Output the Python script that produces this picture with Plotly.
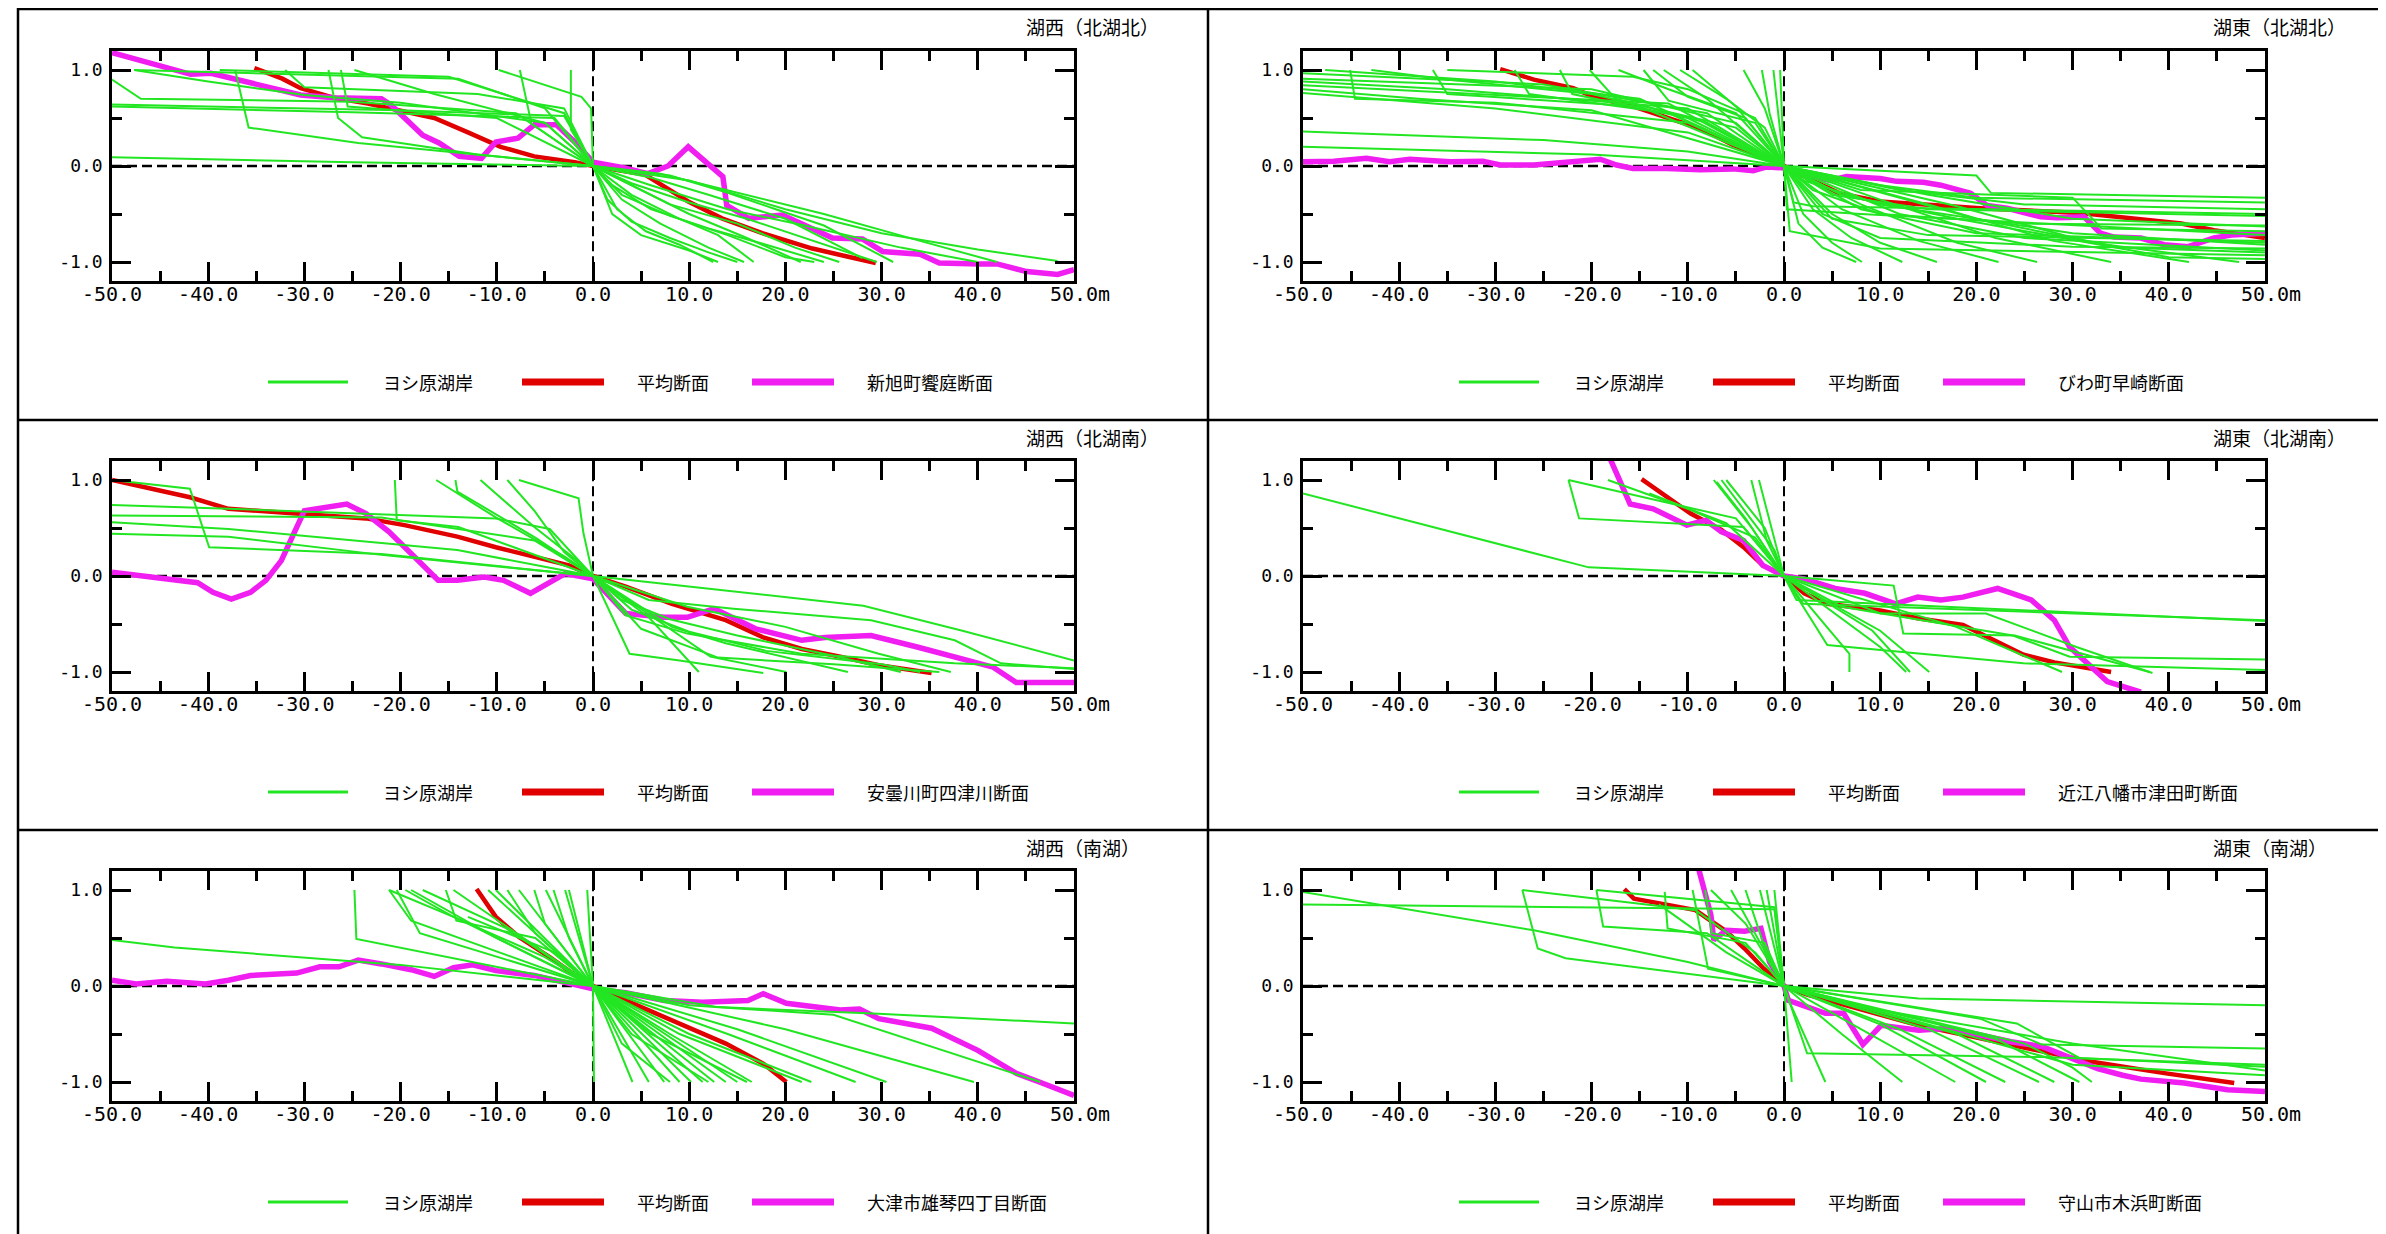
import plotly.graph_objects as go

W, H = 2386, 1234

# ---------------- text ----------------
panel_titles = ["湖西（北湖北）", "湖東（北湖北）", "湖西（北湖南）",
                "湖東（北湖南）", "湖西（南湖）", "湖東（南湖）"]
site_names = ["新旭町饗庭断面", "びわ町早崎断面", "安曇川町四津川断面",
              "近江八幡市津田町断面", "大津市雄琴四丁目断面", "守山市木浜町断面"]
green_label = "ヨシ原湖岸"
mean_label = "平均断面"

x_tickvals = [-50, -40, -30, -20, -10, 0, 10, 20, 30, 40, 50]
x_ticktext = ["-50.0", "-40.0", "-30.0", "-20.0", "-10.0", "0.0",
              "10.0", "20.0", "30.0", "40.0", "\u00a050.0m"]
x_minor = [-45, -35, -25, -15, -5, 5, 15, 25, 35, 45]
y_tickvals = [-1.0, 0.0, 1.0]
y_left_text = ["-1.0", "0.0", "1.0"]
y_right_text = ["BSL-1.0m", "BSL\u00a0\u00a00.0m", "BSL\u00a0\u00a01.0m"]
y_minor = [-0.5, 0.5]

# ---------------- data (distance m, height m) ----------------
# Panel 1: 湖西（北湖北）
p1_mean = [(-35.2, 1.02), (-32.3, 0.91), (-30.4, 0.81), (-26.9, 0.71), (-23.4, 0.65), (-20, 0.58),
           (-16.5, 0.50), (-13, 0.35), (-9.6, 0.20), (-6.1, 0.10), (-1.9, 0.04), (0, 0),
           (5.4, -0.09), (9.9, -0.37), (13.4, -0.545), (17.6, -0.70), (22.8, -0.86), (26.3, -0.94), (29.4, -1.01)]
p1_site = [(-50, 1.18), (-41.8, 0.955), (-39.7, 0.965), (-35.5, 0.86), (-30.4, 0.74), (-26.9, 0.71),
           (-22.0, 0.70), (-21.0, 0.635), (-19.3, 0.48), (-17.7, 0.32), (-16.0, 0.24), (-13.9, 0.10),
           (-11.6, 0.08), (-10.1, 0.25), (-7.8, 0.29), (-6.1, 0.43), (-3.8, 0.43), (-1.9, 0.25), (0, 0.04),
           (1.2, 0.02), (3.3, -0.02), (5.7, -0.08), (7.8, 0.0), (9.9, 0.20), (11.7, 0.045), (13.5, -0.11),
           (13.9, -0.41), (16.2, -0.545), (19.7, -0.51), (22.8, -0.65), (24.9, -0.75), (28, -0.76),
           (30.1, -0.89), (34, -0.92), (36, -1.01), (40.2, -1.02), (42, -1.02), (45.1, -1.10), (48.3, -1.13), (50, -1.08)]
p1_green = [
    [(-50, 0.90), (-47, 0.70), (-25, 0.67), (-8, 0.55), (0, 0), (2.5, -0.45), (5.5, -0.68), (9, -0.82), (12.5, -1.0)],
    [(-50, 0.64), (-20, 0.58), (-3, 0.52), (0, 0), (3, -0.35), (7, -0.6), (12, -0.85), (15.7, -1.0)],
    [(-50, 0.62), (-25, 0.56), (-4, 0.50), (0, 0), (4, -0.3), (9, -0.55), (13, -0.72), (16.7, -1.0)],
    [(-50, 0.09), (-25, 0.04), (0, 0), (5, -0.25), (10, -0.5), (16, -0.75), (21.6, -1.0)],
    [(-47.7, 1.0), (-40, 0.88), (-30, 0.74), (-20, 0.66), (-5, 0.45), (0, 0), (3, -0.15), (8, -0.40), (15, -0.60), (21, -0.85), (25.6, -1.0)],
    [(-47.7, 1.0), (-14, 0.91), (-5, 0.6), (0, 0), (6, -0.12), (12, -0.30), (20, -0.55), (28, -0.96)],
    [(-38.8, 1.0), (-15, 0.93), (-3, 0.55), (0, 0), (8, -0.1), (14, -0.28), (19, -0.45), (24, -0.62), (31.2, -1.0)],
    [(-37.2, 1.0), (-35.8, 0.40), (-24.4, 0.24), (-10, 0.10), (0, 0), (7, -0.08), (14, -0.25), (24, -0.5), (34, -0.78), (42, -1.0)],
    [(-27.5, 1.0), (-26.5, 0.50), (-24, 0.30), (-12, 0.12), (0, 0), (10, -0.15), (20, -0.45), (30, -0.70), (40, -0.87), (48.3, -0.99)],
    [(-26.2, 1.0), (-25.5, 0.62), (-10, 0.50), (0, 0), (6, -0.2), (14, -0.45), (22, -0.62), (32, -0.85), (40, -1.0)],
    [(-24.8, 1.0), (-16.5, 0.75), (-5, 0.45), (0, 0), (4, -0.18), (10, -0.38), (16, -0.55), (22, -0.75), (29.5, -1.0)],
    [(-32, 1.0), (-30, 0.82), (-12, 0.75), (-3, 0.6), (0, 0), (2, -0.2), (6, -0.45), (12, -0.65), (18, -0.82), (24, -1.0)],
    [(-9.8, 1.0), (-1.2, 0.72), (-0.2, 0.6), (0, 0), (1.5, -0.35), (4, -0.58), (8, -0.75), (12, -0.9), (15, -1.0)],
    [(-7.6, 1.0), (-6.4, 0.44), (0, 0), (3, -0.3), (8, -0.52), (14, -0.72), (20, -0.95), (23, -1.0)],
    [(-2.3, 1.0), (-2.3, 0.38), (0, 0), (2, -0.5), (5, -0.72), (10, -0.88), (13, -1.0)],
]

# Panel 2: 湖東（北湖北）
p2_mean = [(-29.5, 1.01), (-26, 0.90), (-21.9, 0.81), (-19.8, 0.72), (-15.7, 0.62), (-12.2, 0.51), (-8.7, 0.39),
           (-5.3, 0.22), (-1.8, 0.08), (0, 0), (3.1, -0.16), (5.8, -0.285), (10, -0.37), (20.4, -0.44),
           (30.8, -0.49), (41.3, -0.60), (44.7, -0.67), (50, -0.75)]
p2_site = [(-50, 0.045), (-46.8, 0.05), (-43.4, 0.08), (-41, 0.045), (-38.9, 0.07), (-34.7, 0.045), (-31.3, 0.05),
           (-29.5, 0.01), (-26, 0.01), (-22.6, 0.045), (-19.1, 0.07), (-17.4, 0.01), (-15.7, -0.025), (-12.2, -0.025),
           (-8.7, -0.04), (-5.3, -0.03), (-3.2, -0.05), (-1.8, -0.01), (0, -0.02), (3.1, -0.11), (4.8, -0.15),
           (6.5, -0.11), (10, -0.13), (11.7, -0.16), (14.5, -0.17), (16.3, -0.2), (19.4, -0.285), (21.1, -0.41),
           (23.2, -0.44), (26.7, -0.53), (28.4, -0.54), (31.2, -0.53), (32.9, -0.70), (34.3, -0.74), (37.1, -0.75),
           (39.5, -0.82), (42, -0.84), (44.7, -0.75), (46.5, -0.72), (50, -0.70)]
p2_green = [
    [(-50, 0.965), (-25, 0.85), (-8, 0.55), (0, 0), (20, -0.10), (21.5, -0.28), (50, -0.33)],
    [(-50, 0.91), (-20, 0.80), (-5, 0.45), (0, 0), (10, -0.2), (20, -0.33), (50, -0.38)],
    [(-50, 0.88), (-35, 0.80), (-10, 0.60), (0, 0), (1, -0.38), (3, -0.42), (50, -0.50)],
    [(-50, 0.76), (-30, 0.60), (-10, 0.35), (0, 0), (5, -0.3), (15, -0.45), (50, -0.52)],
    [(-50, 0.36), (-25, 0.27), (-10, 0.15), (0, 0), (8, -0.25), (30, -0.33), (33, -0.65), (50, -0.68)],
    [(-50, 0.20), (-20, 0.12), (0, 0), (3, -0.25), (10, -0.5), (25, -0.6), (50, -0.62)],
    [(-47.7, 1.0), (-30, 0.88), (-15, 0.70), (0, 0), (0.6, -0.68), (10, -0.86), (50, -0.93)],
    [(-45.1, 1.0), (-44.6, 0.70), (-30, 0.66), (-10, 0.45), (0, 0), (5, -0.55), (15, -0.72), (50, -0.78)],
    [(-42.9, 1.0), (-35, 0.90), (-20, 0.75), (-5, 0.40), (0, 0), (8, -0.45), (20, -0.70), (50, -0.80)],
    [(-36.5, 1.0), (-35, 0.75), (-15, 0.62), (0, 0), (4, -0.5), (10, -0.75), (30, -0.84), (50, -0.86)],
    [(-35, 1.0), (-15.7, 0.93), (-10, 0.80), (-3, 0.50), (0, 0), (12, -0.5), (25, -0.75), (50, -0.88)],
    [(-23.3, 1.0), (-22, 0.75), (-10, 0.50), (0, 0), (2, -0.5), (5, -0.8), (8.1, -1.0)],
    [(-20.2, 1.0), (-17.5, 0.70), (-8, 0.45), (0, 0), (3, -0.45), (7, -0.75), (12.3, -1.0)],
    [(-17.2, 1.0), (-12, 0.80), (-5, 0.55), (0, 0), (5, -0.5), (10, -0.8), (15.9, -1.0)],
    [(-14.6, 1.0), (-12, 0.68), (-3, 0.45), (0, 0), (6, -0.45), (14, -0.78), (22.3, -1.0)],
    [(-13.6, 1.0), (-10, 0.72), (-4, 0.50), (0, 0), (8, -0.4), (18, -0.8), (26.3, -1.0)],
    [(-12.5, 1.0), (-8, 0.70), (0, 0), (10, -0.35), (22, -0.75), (34, -1.0)],
    [(-10.8, 1.0), (-6, 0.70), (-2, 0.40), (0, 0), (15, -0.4), (28, -0.78), (42.1, -1.0)],
    [(-9.5, 1.0), (-5, 0.62), (0, 0), (18, -0.42), (32, -0.80), (47.3, -1.0)],
    [(-4.2, 1.0), (-2, 0.60), (0, 0), (15, -0.3), (30, -0.55), (50, -0.63)],
    [(-2.3, 1.0), (-1.5, 0.55), (0, 0), (0.3, -0.45), (8, -0.5), (50, -0.72)],
    [(-1.1, 1.0), (0, 0), (12, -0.25), (25, -0.4), (50, -0.45)],
    [(-0.4, 1.0), (0, 0), (6, -0.3), (18, -0.55), (40, -0.95), (50, -0.97)],
    [(-50, 0.84), (-12, 0.65), (0, 0), (2, -0.15), (10, -0.4), (30, -0.7), (50, -0.82)],
    [(-50, 0.80), (-38, 0.70), (-20, 0.58), (0, 0), (20, -0.55), (35, -0.85), (50, -0.90)],
    [(-28, 1.0), (-26.5, 0.75), (-12, 0.55), (0, 0), (1.5, -0.6), (4, -0.85), (7.5, -1.0)],
]

# Panel 3: 湖西（北湖南）
p3_mean = [(-50, 1.0), (-45.9, 0.91), (-41.9, 0.82), (-37.9, 0.70), (-30, 0.65), (-23.6, 0.60), (-19.6, 0.53),
           (-14.1, 0.41), (-10.1, 0.30), (-6.1, 0.20), (-2.5, 0.11), (0, 0), (3.4, -0.11), (8.2, -0.29),
           (13.8, -0.46), (17.7, -0.64), (21.7, -0.76), (25.7, -0.84), (29.7, -0.93), (35.2, -1.01)]
p3_site = [(-50, 0.04), (-45.9, -0.01), (-41.1, -0.07), (-39.5, -0.17), (-37.6, -0.24), (-35.6, -0.17),
           (-34, -0.045), (-32.4, 0.16), (-30, 0.68), (-25.6, 0.75), (-23.6, 0.65), (-21.2, 0.46), (-18.9, 0.23),
           (-16.1, -0.045), (-14.1, -0.045), (-11.3, -0.01), (-9.3, -0.045), (-6.5, -0.18), (-2.9, 0.025),
           (0, -0.03), (3.4, -0.39), (7.4, -0.43), (9.8, -0.43), (12.6, -0.34), (16.9, -0.55), (21.7, -0.67),
           (24.1, -0.64), (28.9, -0.62), (33.7, -0.74), (39.2, -0.88), (41.6, -0.95), (44, -1.11), (50, -1.11)]
p3_green = [
    [(-50, 1.0), (-41.9, 0.91), (-39.9, 0.30), (-22, 0.23), (0, 0), (3.8, -0.81), (9, -0.88), (17.7, -1.01)],
    [(-50, 0.74), (-37.9, 0.70), (-10.1, 0.60), (-4.5, 0.49), (0, 0), (28.1, -0.31), (38.4, -0.57), (50, -0.88)],
    [(-50, 0.63), (-22, 0.61), (-6.1, 0.37), (0, 0), (5.8, -0.25), (14.6, -0.34), (28.9, -0.46), (37.6, -0.67), (42.4, -0.91), (50, -0.97)],
    [(-50, 0.56), (-37.9, 0.49), (-14.1, 0.27), (0, 0), (3.4, -0.41), (9.8, -0.6), (21.7, -0.81), (37.6, -0.91), (50, -0.96)],
    [(-50, 0.44), (-37.9, 0.41), (-22, 0.22), (0, 0), (5.8, -0.43), (11, -1.0)],
    [(-20.6, 1.0), (-20.4, 0.58), (-14, 0.51), (0, 0), (8.2, -0.53), (13.8, -0.70), (26.5, -1.0)],
    [(-16.3, 1.0), (-10.1, 0.61), (-2.9, 0.20), (0, 0), (9.8, -0.32), (20, -0.53), (29.7, -0.81), (37.2, -1.0)],
    [(-14.3, 1.0), (-14.1, 0.88), (-6, 0.40), (0, 0), (12.2, -0.84), (20.1, -1.0)],
    [(-11.7, 1.0), (-6.1, 0.51), (-1.5, 0.15), (0, 0), (5, -0.55), (13, -0.85), (25, -0.92), (36, -1.0)],
    [(-8.9, 1.0), (-6.1, 0.68), (-3, 0.25), (0, 0), (4, -0.35), (10, -0.58), (18, -0.78), (30, -0.92), (34, -1.0)],
    [(-7.7, 1.0), (-1.5, 0.81), (-1, 0.45), (0, 0), (3, -0.25), (8, -0.45), (15, -0.62), (25, -0.83), (32, -1.0)],
]

# Panel 4: 湖東（北湖南）
p4_mean = [(-14.8, 1.01), (-12, 0.82), (-9.7, 0.65), (-6.5, 0.48), (-4.2, 0.30), (-2.2, 0.11), (0, 0),
           (2.1, -0.18), (4.5, -0.29), (10, -0.36), (13.9, -0.44), (18.6, -0.51), (21.8, -0.67), (24.9, -0.82),
           (28.1, -0.90), (31.2, -0.95), (34, -1.0)]
p4_site = [(-18.2, 1.25), (-16, 0.75), (-13.6, 0.70), (-10.1, 0.53), (-8.1, 0.58), (-6.5, 0.46), (-4.2, 0.37),
           (-2.2, 0.11), (0, 0), (2.1, -0.03), (5.3, -0.13), (8.4, -0.18), (11.6, -0.29), (13.9, -0.22),
           (16.3, -0.25), (18.6, -0.22), (22.2, -0.13), (24.2, -0.20), (25.7, -0.25), (28.1, -0.46), (29.7, -0.74),
           (33.6, -1.10), (37.1, -1.21)]
p4_green = [
    [(-50, 0.86), (-20.3, 0.09), (0, 0), (2, -0.29), (50, -0.46)],
    [(-22.4, 1.0), (-21.3, 0.60), (-4.2, 0.51), (0, 0), (1.3, -0.25), (50, -0.47)],
    [(-22.4, 1.0), (-5, 0.60), (0, 0), (11.4, -0.10), (12.4, -0.60), (24, -0.62), (38, -1.0)],
    [(-18.3, 1.0), (-10, 0.70), (-3, 0.40), (0, 0), (4.5, -0.72), (24.9, -0.91), (50, -0.98)],
    [(-7.3, 1.0), (-3.4, 0.51), (0, 0), (10, -0.39), (21, -0.39), (30.4, -0.74), (38.3, -1.01)],
    [(-6.5, 1.0), (-1.0, 0.27), (0, 0), (6, -0.32), (23.8, -0.62), (29.7, -0.84), (50, -0.87)],
    [(-3.4, 1.0), (-1.8, 0.37), (0, 0), (6.8, -0.81), (6.8, -1.0)],
    [(-2.6, 1.0), (-0.6, 0.23), (0, 0), (9.2, -0.57), (13.1, -1.0)],
    [(-14, 0.86), (-6, 0.55), (0, 0), (3.7, -0.22), (10, -0.57), (15.1, -1.0)],
    [(-7, 0.98), (-4, 0.6), (0, 0), (10, -0.74), (12.7, -1.0)],
    [(-6, 1.0), (-2, 0.5), (0, 0), (17.9, -0.53), (28.9, -1.0)],
]

# Panel 5: 湖西（南湖）
p5_mean = [(-12.1, 1.01), (-10.1, 0.72), (-7.7, 0.51), (-4.5, 0.30), (-1.4, 0.08), (0, 0), (3.4, -0.15),
           (8.2, -0.36), (13.8, -0.60), (17.7, -0.81), (20.1, -1.0)]
p5_site = [(-50, 0.06), (-47.5, 0.02), (-44.3, 0.05), (-40.3, 0.02), (-37.9, 0.06), (-35.6, 0.11), (-30.8, 0.135),
           (-28.4, 0.20), (-26.4, 0.20), (-24.4, 0.27), (-22, 0.23), (-18.9, 0.17), (-16.5, 0.10), (-14.5, 0.19),
           (-12.5, 0.22), (-10.1, 0.16), (-6.1, 0.11), (-2.9, 0.04), (0, -0.03), (3.4, -0.07), (7.4, -0.15),
           (11.4, -0.17), (16.1, -0.15), (17.7, -0.08), (20.1, -0.18), (25.7, -0.25), (27.7, -0.24), (29.7, -0.34),
           (35.2, -0.44), (40, -0.67), (44, -0.91), (46.4, -1.0), (50, -1.14)]
p5_green = [
    [(-50, 0.48), (-43.5, 0.40), (-20, 0.22), (0, 0), (13, -0.22), (29.7, -0.29), (50, -0.39)],
    [(-24.8, 1.0), (-24.6, 0.49), (0, 0), (10, -0.2), (25, -0.3), (45, -0.95), (46.5, -1.0)],
    [(-21.2, 1.0), (-18.9, 0.68), (0, 0), (20, -0.45), (39.6, -1.0)],
    [(-21.2, 1.0), (-14, 0.70), (0, 0), (15, -0.45), (30.5, -1.0)],
    [(-20.4, 1.0), (-18, 0.55), (0, 0), (14, -0.5), (27.3, -1.0)],
    [(-18.9, 1.0), (-10, 0.5), (0, 0), (10, -0.5), (22.7, -1.0)],
    [(-17.7, 1.0), (-9, 0.60), (0, 0), (9, -0.5), (21.7, -1.0)],
    [(-15.3, 1.0), (-14.2, 0.68), (-6, 0.5), (0, 0), (8, -0.5), (16.5, -1.0)],
    [(-14.5, 1.0), (0, 0), (15, -1.0)],
    [(-10.9, 1.0), (0, 0), (13.8, -1.0)],
    [(-10.1, 1.0), (0, 0), (12.6, -1.0)],
    [(-8.9, 1.0), (-6, 0.55), (0, 0), (11.4, -1.0)],
    [(-7.7, 1.0), (0, 0), (10.2, -1.0)],
    [(-6.1, 1.0), (-5, 0.65), (0, 0), (9, -1.0)],
    [(-4.9, 1.0), (0, 0), (7.4, -1.0)],
    [(-4.1, 1.0), (-2.5, 0.50), (0, 0), (5.8, -1.0)],
    [(-2.9, 1.0), (0, 0), (4.1, -1.0)],
    [(-2.5, 1.0), (0, 0), (0.1, -1.0)],
    [(-0.6, 1.0), (0, 0), (6, -0.5), (16, -1.0)],
    [(-19.5, 1.0), (-14.5, 0.72), (-5, 0.3), (0, 0), (4, -0.5), (12, -1.0)],
    [(-13, 0.72), (-4, 0.35), (0, 0), (3, -0.6), (8, -1.0)],
]

# Panel 6: 湖東（南湖）
p6_mean = [(-16.6, 1.01), (-15.6, 0.91), (-11.8, 0.84), (-9.2, 0.79), (-7.9, 0.70), (-6, 0.57), (-4.1, 0.39),
           (-2.1, 0.18), (0, 0), (2.4, -0.09), (7.5, -0.23), (14, -0.41), (20.4, -0.545), (26.8, -0.68),
           (32, -0.79), (39.7, -0.91), (46.8, -1.01)]
p6_site = [(-8.9, 1.23), (-8.2, 0.98), (-7.6, 0.74), (-7.3, 0.48), (-6, 0.58), (-4.1, 0.57), (-2.4, 0.60),
           (-1.5, 0.25), (0, 0), (0.45, -0.15), (3, -0.23), (4.3, -0.285), (6.2, -0.285), (8.2, -0.61),
           (10.1, -0.41), (14, -0.46), (17.2, -0.44), (20.4, -0.51), (23.6, -0.58), (26.8, -0.63), (30, -0.75),
           (32.6, -0.86), (35.2, -0.93), (37.1, -0.97), (41.6, -1.01), (46.1, -1.08), (50, -1.10)]
p6_green = [
    [(-50, 0.98), (-26, 0.58), (-10, 0.25), (0, 0), (14, -0.13), (50, -0.20)],
    [(-50, 0.85), (-20, 0.82), (-1, 0.80), (0, 0), (2.4, -0.70), (26.8, -0.74), (50, -0.82)],
    [(-27.2, 1.0), (-25.6, 0.39), (-22.7, 0.29), (0, 0), (20.4, -0.34), (26.8, -0.61), (50, -0.65)],
    [(-27.2, 1.0), (-9.2, 0.79), (-3, 0.35), (0, 0), (24.2, -0.39), (30.7, -0.75), (50, -0.84)],
    [(-19.5, 1.0), (-18.8, 0.62), (-8, 0.55), (0, 0), (15, -0.4), (30, -0.82), (50, -0.93)],
    [(-12.4, 0.98), (-12.1, 0.60), (-4, 0.45), (0, 0), (0.5, -0.15), (4.3, -1.0)],
    [(-9.5, 1.0), (-7.9, 0.18), (0, 0), (0.8, -1.0)],
    [(-8.2, 1.0), (-7.5, 0.55), (-2, 0.45), (0, 0), (6, -0.5), (12.3, -1.0)],
    [(-7.6, 1.0), (-4, 0.65), (0, 0), (8, -0.45), (17.8, -1.0)],
    [(-5.5, 1.0), (-3, 0.55), (0, 0), (10, -0.4), (21, -1.0)],
    [(-4, 1.0), (-2, 0.4), (0, 0), (12, -0.45), (23, -1.0)],
    [(-2.5, 1.0), (0, 0), (15, -0.45), (26.5, -1.0)],
    [(-1.8, 1.0), (0, 0), (18, -0.5), (28.1, -1.0)],
    [(-1.0, 1.0), (-0.8, 0.81), (0, 0), (22, -0.55), (30.7, -1.0)],
    [(-19.5, 1.0), (-1, 0.82), (0, 0), (25, -0.6), (30, -0.85), (32, -1.0)],
    [(-13, 0.85), (-6, 0.35), (0, 0), (10, -0.25), (30, -0.6), (50, -0.88)],
]

greens = [p1_green, p2_green, p3_green, p4_green, p5_green, p6_green]
means = [p1_mean, p2_mean, p3_mean, p4_mean, p5_mean, p6_mean]
sites = [p1_site, p2_site, p3_site, p4_site, p5_site, p6_site]

# ---------------- styles / layout geometry (page pixels) ----------------
GREEN, RED, MAGENTA = "#22E622", "#E00000", "#F01EF0"
NUM_FONT = "DejaVu Sans Mono"
JP_FONT = "Noto Sans CJK JP"
PAGE_OFF = 8  # default body margin of the html page
col_px = [(112, 1074), (1303, 2265)]
row_px = [(50.8, 281.2), (460.8, 691.2), (870.8, 1101.2)]
ROW_STEP = 410
title_x = [1024, 2211]
title_y = 27
legend_y = 382
legend_dx = [0, 1191]
legend_items = [(268, 348, 381, 3, GREEN), (522, 604, 635, 7, RED), (752, 834, 865, 7, MAGENTA)]


def px(x):
    return (x - PAGE_OFF) / W


def py(y):
    return 1 - (y - PAGE_OFF) / H


def flatten(lines):
    xs, ys = [], []
    for line in lines:
        for x, y in line:
            xs.append(x)
            ys.append(y)
        xs.append(None)
        ys.append(None)
    return xs, ys


fig = go.Figure()
shapes = []
annotations = []

for i in range(6):
    r, c = divmod(i, 2)
    xa, ya, yr = f"x{i + 1}", f"y{i + 1}", f"y{i + 7}"
    gx, gy = flatten(greens[i])
    mx = [p[0] for p in means[i]]
    my = [p[1] for p in means[i]]
    sx = [p[0] for p in sites[i]]
    sy = [p[1] for p in sites[i]]
    fig.add_trace(go.Scatter(x=mx, y=my, mode="lines", line=dict(color=RED, width=4.5),
                             xaxis=xa, yaxis=ya, name=mean_label, showlegend=False))
    fig.add_trace(go.Scatter(x=sx, y=sy, mode="lines", line=dict(color=MAGENTA, width=5.5),
                             xaxis=xa, yaxis=ya, name=site_names[i], showlegend=False))
    fig.add_trace(go.Scatter(x=gx, y=gy, mode="lines", line=dict(color=GREEN, width=2),
                             xaxis=xa, yaxis=ya, name=green_label, showlegend=False,
                             connectgaps=False))

    x0, x1 = col_px[c]
    y0, y1 = row_px[r]
    axis_common = dict(showline=True, linecolor="black", linewidth=2.5, mirror="ticks",
                       ticks="inside", ticklen=19, tickwidth=2.5, tickcolor="black",
                       showgrid=False, zeroline=False, automargin=False)
    fig.update_layout(**{
        f"xaxis{i + 1}": dict(domain=[px(x0), px(x1)], anchor=ya, range=[-50, 50],
                              tickmode="array", tickvals=x_tickvals, ticktext=x_ticktext,
                              tickfont=dict(family=NUM_FONT, size=20, color="black"),
                              ticklabelstandoff=-7,
                              minor=dict(tickvals=x_minor, ticks="inside", ticklen=10,
                                         tickwidth=2.5, tickcolor="black"),
                              **axis_common),
        f"yaxis{i + 1}": dict(domain=[py(y1), py(y0)], anchor=xa, range=[-1.2, 1.2],
                              tickmode="array", tickvals=y_tickvals, ticktext=y_left_text,
                              tickfont=dict(family=NUM_FONT, size=18, color="black"),
                              ticklabelstandoff=3,
                              minor=dict(tickvals=y_minor, ticks="inside", ticklen=10,
                                         tickwidth=2.5, tickcolor="black"),
                              **axis_common),
        f"yaxis{i + 7}": dict(overlaying=ya, anchor=xa, side="right", range=[-1.2, 1.2],
                              tickmode="array", tickvals=y_tickvals, ticktext=y_right_text,
                              tickfont=dict(family=NUM_FONT, size=18, color="black"),
                              ticks="", showline=False, showgrid=False, zeroline=False,
                              automargin=False, ticklabelstandoff=6),
    })

    # dashed reference lines
    shapes.append(dict(type="line", xref=xa, yref=ya, x0=-50, x1=50, y0=0, y1=0, layer="below",
                       line=dict(color="black", width=2.5, dash="10px,5px")))
    shapes.append(dict(type="line", xref=xa, yref=ya, x0=0, x1=0, y0=-1.2, y1=1.2, layer="below",
                       line=dict(color="black", width=2, dash="10px,5px")))

    # panel title
    annotations.append(dict(text=panel_titles[i], xref="paper", yref="paper",
                            x=px(title_x[c]), y=py(title_y + r * ROW_STEP),
                            xanchor="left", yanchor="middle", showarrow=False,
                            font=dict(family=JP_FONT, size=19, color="black")))
    # legend key
    labels = [green_label, mean_label, site_names[i]]
    ly = legend_y + r * ROW_STEP
    dx = legend_dx[c]
    for (lx0, lx1, tx, lw, col), lab in zip(legend_items, labels):
        shapes.append(dict(type="line", xref="paper", yref="paper",
                           x0=px(lx0 + dx), x1=px(lx1 + dx), y0=py(ly), y1=py(ly),
                           line=dict(color=col, width=lw)))
        annotations.append(dict(text=lab, xref="paper", yref="paper", x=px(tx + dx), y=py(ly),
                                xanchor="left", yanchor="middle", showarrow=False,
                                font=dict(family=JP_FONT, size=18, color="black")))

# panel frames
frame = dict(color="black", width=2.5)
shapes.append(dict(type="rect", xref="paper", yref="paper", x0=px(18), x1=px(2386), y0=py(1240), y1=py(9),
                   line=frame))
shapes.append(dict(type="line", xref="paper", yref="paper", x0=px(1208), x1=px(1208), y0=py(1240), y1=py(9),
                   line=frame))
for yy in (420, 830):
    shapes.append(dict(type="line", xref="paper", yref="paper", x0=px(18), x1=px(2386), y0=py(yy), y1=py(yy),
                       line=frame))

fig.update_layout(template="none", width=W, height=H, autosize=False,
                  margin=dict(l=0, r=0, t=0, b=0, pad=0),
                  paper_bgcolor="white", plot_bgcolor="white", showlegend=False,
                  shapes=shapes, annotations=annotations)

fig.write_html("out.html")
